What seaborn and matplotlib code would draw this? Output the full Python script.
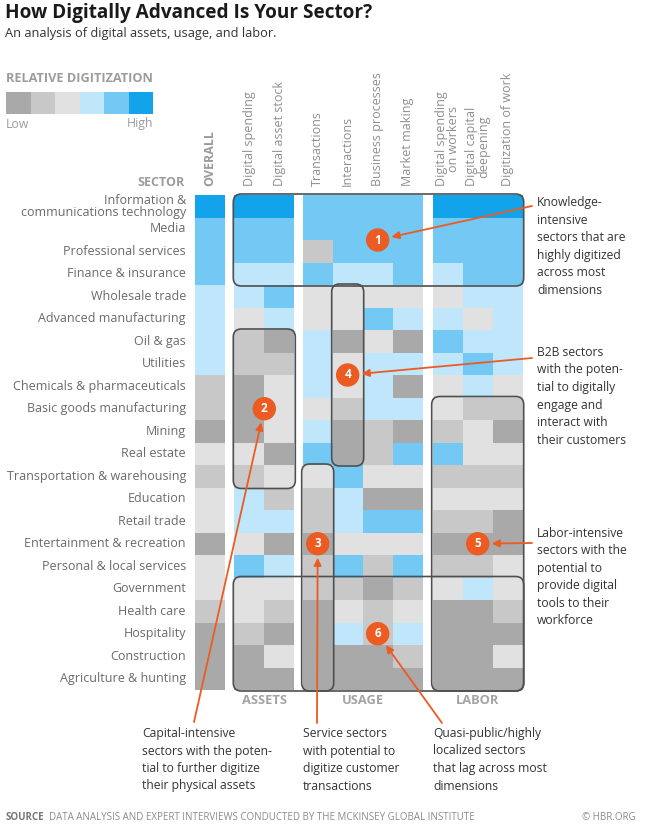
import numpy as np
import pandas as pd
import seaborn as sns
import matplotlib.pyplot as plt
from matplotlib.colors import ListedColormap
from matplotlib.patches import FancyBboxPatch, FancyArrowPatch, Circle
from matplotlib.transforms import IdentityTransform

sns.set_style('white')
plt.rcParams['font.family'] = ['Open Sans', 'DejaVu Sans']

# Data: 1 = low ... 6 = high relative digitization
sectors = ['Information &\ncommunications technology', 'Media', 'Professional services',
           'Finance & insurance', 'Wholesale trade', 'Advanced manufacturing', 'Oil & gas',
           'Utilities', 'Chemicals & pharmaceuticals', 'Basic goods manufacturing', 'Mining',
           'Real estate', 'Transportation & warehousing', 'Education', 'Retail trade',
           'Entertainment & recreation', 'Personal & local services', 'Government',
           'Health care', 'Hospitality', 'Construction', 'Agriculture & hunting']

overall             = [6, 5, 5, 5, 4, 4, 4, 4, 2, 2, 1, 3, 2, 3, 3, 1, 3, 3, 2, 1, 1, 1]
digital_spending    = [6, 5, 5, 4, 4, 3, 2, 2, 1, 1, 1, 3, 2, 4, 4, 3, 5, 3, 3, 2, 1, 1]
digital_asset_stock = [6, 5, 5, 4, 5, 4, 1, 2, 3, 3, 3, 1, 3, 2, 4, 1, 4, 3, 2, 1, 3, 1]
transactions        = [5, 5, 2, 5, 3, 3, 4, 4, 4, 3, 4, 5, 3, 2, 2, 1, 2, 2, 1, 1, 1, 1]
interactions        = [5, 5, 5, 4, 3, 3, 1, 3, 3, 2, 1, 1, 5, 4, 4, 3, 5, 2, 3, 4, 1, 1]
business_processes  = [5, 5, 5, 4, 3, 5, 3, 4, 4, 4, 2, 2, 3, 1, 5, 3, 2, 1, 2, 2, 1, 1]
market_making       = [5, 5, 5, 5, 3, 4, 1, 4, 1, 4, 1, 5, 3, 1, 5, 3, 5, 2, 3, 4, 2, 1]
spending_on_workers = [6, 5, 5, 4, 3, 4, 5, 4, 3, 3, 2, 5, 2, 3, 2, 1, 2, 3, 1, 1, 1, 1]
capital_deepening   = [6, 5, 5, 5, 4, 3, 4, 5, 4, 2, 3, 3, 2, 3, 2, 1, 2, 4, 1, 1, 1, 1]
digitization_work   = [6, 5, 5, 5, 4, 4, 4, 4, 3, 2, 1, 3, 2, 3, 1, 1, 3, 3, 2, 1, 3, 1]

levels = [1, 2, 3, 4, 5, 6]
palette = ['#a9a9a9', '#c8c8c8', '#e1e1e1', '#bfe6fa', '#74c8f4', '#12a3ea']

df = pd.DataFrame({
    'OVERALL': overall,
    'Digital spending': digital_spending,
    'Digital asset stock': digital_asset_stock,
    'Transactions': transactions,
    'Interactions': interactions,
    'Business processes': business_processes,
    'Market making': market_making,
    'Digital spending\non workers': spending_on_workers,
    'Digital capital\ndeepening': capital_deepening,
    'Digitization of work': digitization_work,
}, index=sectors)

groups = [
    ('', ['OVERALL'], (195, 225)),
    ('ASSETS', ['Digital spending', 'Digital asset stock'], (234.3, 294.3)),
    ('USAGE', ['Transactions', 'Interactions', 'Business processes', 'Market making'], (302.7, 422.7)),
    ('LABOR', ['Digital spending\non workers', 'Digital capital\ndeepening', 'Digitization of work'], (432.7, 522.7)),
]

W, H = 647, 831
TOP, BOTTOM = 195, 690
fig = plt.figure(figsize=(W / 100, H / 100), dpi=100)
cmap = ListedColormap(palette)
ORANGE = '#ec5b22'
LABEL = '#8e8e8e'


def frac(x0, y0, x1, y1):
    return [x0 / W, 1 - y1 / H, (x1 - x0) / W, (y1 - y0) / H]


def T(x, y, s, **kw):
    fig.text(x / W, 1 - y / H, s, **kw)


axes = {}
for i, (name, cols, (x0, x1)) in enumerate(groups):
    ax = fig.add_axes(frac(x0, TOP, x1, BOTTOM))
    sns.heatmap(df[cols], ax=ax, cmap=cmap, vmin=0.5, vmax=6.5, cbar=False,
                xticklabels=cols, yticklabels=sectors if i == 0 else False)
    ax.xaxis.tick_top()
    ax.tick_params(axis='x', length=0, pad=6.5, labelsize=9, labelcolor=LABEL)
    plt.setp(ax.get_xticklabels(), rotation=90, va='bottom', ha='center', linespacing=0.88)
    if i == 0:
        ax.tick_params(axis='y', length=0, pad=6.5, labelsize=9, labelcolor='#6a6a6a')
        plt.setp(ax.get_yticklabels(), rotation=0, ha='right', va='center', linespacing=0.88)
        ax.get_xticklabels()[0].set_fontweight('bold')
        ax.get_xticklabels()[0].set_color('#9a9a9a')
    else:
        ax.text(0.5, -10 / (BOTTOM - TOP), name, transform=ax.transAxes, ha='center',
                va='center', fontsize=9.3, fontweight='bold', color='#a3a3a3')
    ax.set_xlabel('')
    ax.set_ylabel('')
    axes[name] = ax


def px(ax, x, y):
    return ax.transData.transform((x, y))


def box(ax_a, c0, r0, ax_b, c1, r1):
    (xa, ya), (xb, yb) = px(ax_a, c0, r0), px(ax_b, c1, r1)
    x0, x1 = min(xa, xb) - 1, max(xa, xb) + 1
    y0, y1 = min(ya, yb) - 1, max(ya, yb) + 1
    fig.add_artist(FancyBboxPatch((x0, y0), x1 - x0, y1 - y0,
                                  boxstyle='round,pad=0,rounding_size=8',
                                  transform=IdentityTransform(), fill=False,
                                  ec='#4f4f4f', lw=1.2, zorder=5))


A, U, L = axes['ASSETS'], axes['USAGE'], axes['LABOR']
box(A, 0, 0, L, 3, 4)      # 1 knowledge-intensive
box(A, 0, 6, A, 2, 13)     # 2 capital-intensive
box(U, 0, 12, U, 1, 22)    # 3 service
box(U, 1, 4, U, 2, 12)     # 4 B2B
box(L, 0, 9, L, 3, 22)     # 5 labor-intensive
box(A, 0, 17, L, 3, 22)    # 6 quasi-public

markers = {
    '1': (U, 2.5, 2.0), '2': (A, 1.0, 9.5), '3': (U, 0.5, 15.5),
    '4': (U, 1.5, 8.0), '5': (L, 1.5, 15.5), '6': (U, 2.5, 19.5),
}
centers = {}
R = 11
for k, (ax, cx, cy) in markers.items():
    c = px(ax, cx, cy)
    centers[k] = c
    fig.add_artist(Circle(c, R, transform=IdentityTransform(), color=ORANGE, zorder=7))
    fig.text(c[0] / W, c[1] / H, k, ha='center', va='center', color='white',
             fontsize=8.5, fontweight='bold', zorder=8)

# arrows from the notes to the markers (start points in image pixels)
starts = {'1': (532, 206), '4': (532, 358), '5': (532, 543),
          '2': (194, 722), '3': (317, 723), '6': (442, 723)}
for k, (sx, sy) in starts.items():
    a = np.array([sx, H - sy])
    c = np.array(centers[k])
    d = (a - c) / np.linalg.norm(a - c)
    tip = c + d * (R + 3)
    fig.add_artist(FancyArrowPatch(a, tip, transform=IdentityTransform(),
                                   arrowstyle='-|>,head_length=4.5,head_width=2.2',
                                   color=ORANGE, lw=1.3, shrinkA=0, shrinkB=0, zorder=6))

note_kw = dict(fontsize=8.7, color='#333333', va='top', ha='left', linespacing=1.45)
T(537, 196, 'Knowledge-\nintensive\nsectors that are\nhighly digitized\nacross most\ndimensions', **note_kw)
T(537, 346, 'B2B sectors\nwith the poten-\ntial to digitally\nengage and\ninteract with\ntheir customers', **note_kw)
T(537, 527, 'Labor-intensive\nsectors with the\npotential to\nprovide digital\ntools to their\nworkforce', **note_kw)
T(142, 727, 'Capital-intensive\nsectors with the poten-\ntial to further digitize\ntheir physical assets', **note_kw)
T(303, 727, 'Service sectors\nwith potential to\ndigitize customer\ntransactions', **note_kw)
T(433, 727, 'Quasi-public/highly\nlocalized sectors\nthat lag across most\ndimensions', **note_kw)

# titles
T(5, 13, 'How Digitally Advanced Is Your Sector?', fontsize=13.7, fontweight='bold',
  color='#1a1a1a', va='center')
T(5, 34, 'An analysis of digital assets, usage, and labor.', fontsize=9.2, color='#333333',
  va='center')

# legend
T(6, 78, 'RELATIVE DIGITIZATION', fontsize=9.2, fontweight='bold', color='#9c9c9c', va='center')
ax_leg = fig.add_axes(frac(6, 92, 153.3, 114))
sns.heatmap(np.array([levels]), ax=ax_leg, cmap=cmap, vmin=0.5, vmax=6.5, cbar=False,
            xticklabels=False, yticklabels=False)
T(6, 124, 'Low', fontsize=8.8, color='#9c9c9c', va='center')
T(153.3, 124, 'High', fontsize=8.8, color='#9c9c9c', va='center', ha='right')
T(185, 182, 'SECTOR', fontsize=9, fontweight='bold', color='#9c9c9c', va='center', ha='right')

# footer
T(6, 817, 'SOURCE', fontsize=7, fontweight='bold', color='#777777', va='center')
T(49, 817, 'DATA ANALYSIS AND EXPERT INTERVIEWS CONDUCTED BY THE MCKINSEY GLOBAL INSTITUTE',
  fontsize=7, color='#8a8a8a', va='center')
T(636, 817, '\u00a9 HBR.ORG', fontsize=7, color='#8a8a8a', va='center', ha='right')

fig.savefig('out.png', dpi=100)
